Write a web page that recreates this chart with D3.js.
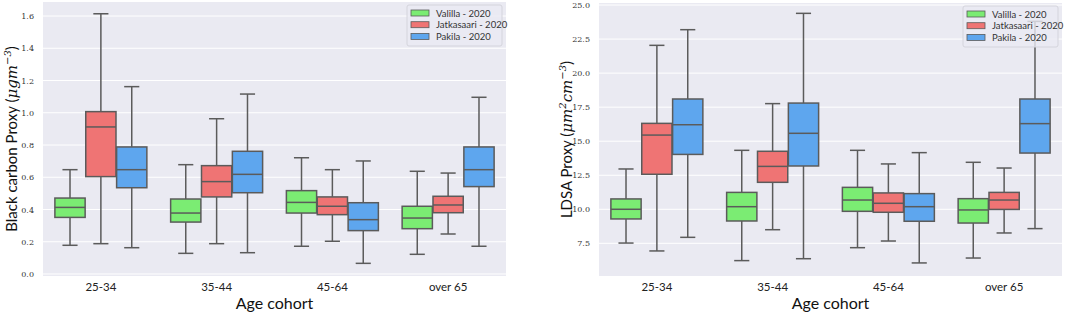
<!DOCTYPE html>
<html>
<head>
<meta charset="utf-8">
<script src="https://cdn.jsdelivr.net/npm/d3@7"></script>
<style>
  body { margin: 0; background: #fff; }
  svg { display: block; }
  .ytick text { font-family: "DejaVu Serif", "Liberation Serif", serif; font-size: 8px; fill: #333; }
  .xtick text { font-family: "Lato", "DejaVu Sans", sans-serif; font-size: 11.5px; fill: #222; }
  .axlabel { font-family: "Lato", "DejaVu Sans", sans-serif; fill: #111; }
  .legend text { font-family: "Lato", "DejaVu Sans", sans-serif; font-size: 9.5px; fill: #333; }
</style>
</head>
<body>
<script>
var WIDTH = 1065;
var HEIGHT = 315;

var cohorts = ["25-34", "35-44", "45-64", "over 65"];
var seriesNames = ["Valilla - 2020", "Jatkasaari - 2020", "Pakila - 2020"];
var seriesColors = ["#7bec73", "#ef7474", "#5ea6ee"];

// [lower whisker, q1, median, q3, upper whisker] for each cohort
var bcValilla = [[0.178, 0.351, 0.413, 0.471, 0.647], [0.128, 0.322, 0.378, 0.465, 0.678], [0.172, 0.378, 0.444, 0.517, 0.721], [0.122, 0.281, 0.347, 0.420, 0.637]];
var bcJatkasaari = [[0.188, 0.604, 0.912, 1.007, 1.614], [0.188, 0.478, 0.573, 0.672, 0.963], [0.203, 0.368, 0.420, 0.478, 0.647], [0.248, 0.380, 0.428, 0.482, 0.626]];
var bcPakila = [[0.163, 0.535, 0.647, 0.788, 1.162], [0.132, 0.504, 0.618, 0.761, 1.116], [0.066, 0.269, 0.337, 0.442, 0.701], [0.172, 0.542, 0.647, 0.788, 1.096]];

var ldsaValilla = [[7.52, 9.29, 10.0, 10.76, 12.96], [6.23, 9.14, 10.19, 11.24, 14.33], [7.18, 9.85, 10.68, 11.61, 14.33], [6.42, 8.99, 9.95, 10.78, 13.45]];
var ldsaJatkasaari = [[6.94, 12.57, 15.45, 16.31, 22.04], [8.50, 11.98, 13.15, 14.26, 17.76], [7.67, 9.78, 10.44, 11.20, 13.33], [8.26, 9.99, 10.68, 11.24, 13.03]];
var ldsaPakila = [[7.94, 14.03, 16.21, 18.10, 23.19], [6.37, 13.18, 15.58, 17.80, 24.39], [6.06, 9.12, 10.19, 11.15, 14.16], [8.58, 14.13, 16.29, 18.10, 23.80]];

var bcTicks = [0.0, 0.2, 0.4, 0.6, 0.8, 1.0, 1.2, 1.4, 1.6];
var ldsaTicks = [7.5, 10.0, 12.5, 15.0, 17.5, 20.0, 22.5, 25.0];

var svg = d3.select("body").append("svg")
  .attr("width", WIDTH)
  .attr("height", HEIGHT);

var drawPanel = function (opt) {
  var left = opt.left, right = opt.right, top = opt.top, bottom = opt.bottom;
  var g = svg.append("g");

  var x = d3.scaleBand().domain(cohorts).range([left, right]).padding(0);
  var y = d3.scaleLinear().domain(opt.domain).range([bottom, top]);
  var hue = d3.scaleBand().domain(d3.range(seriesNames.length))
    .range([0, x.bandwidth() * 0.8]).padding(0);

  g.append("rect")
    .attr("x", left).attr("y", top)
    .attr("width", right - left).attr("height", bottom - top)
    .attr("fill", "#eaeaf2");

  // grid
  g.append("g").selectAll("line")
    .data(opt.ticks)
    .enter().append("line")
    .attr("x1", left).attr("x2", right)
    .attr("y1", function (d) { return y(d); })
    .attr("y2", function (d) { return y(d); })
    .attr("stroke", "#fff").attr("stroke-width", 1);

  var yAxis = d3.axisLeft(y).tickValues(opt.ticks).tickSize(0).tickPadding(opt.tickPad)
    .tickFormat(d3.format(".1f"));
  g.append("g").attr("class", "ytick")
    .attr("transform", "translate(" + left + ",0)")
    .call(yAxis)
    .call(function (s) { s.select(".domain").remove(); });

  var xAxis = d3.axisBottom(x).tickSize(0).tickPadding(7);
  g.append("g").attr("class", "xtick")
    .attr("transform", "translate(0," + bottom + ")")
    .call(xAxis)
    .call(function (s) { s.select(".domain").remove(); });

  // boxes
  var boxW = hue.bandwidth() * 0.98;
  opt.series.forEach(function (vals, si) {
    var sg = g.append("g").selectAll("g")
      .data(vals)
      .enter().append("g")
      .attr("transform", function (d, i) {
        var cx = x(cohorts[i]) + x.bandwidth() * 0.1 + hue(si) + hue.bandwidth() / 2;
        return "translate(" + cx + ",0)";
      });
    var edge = "#5b5b5b";
    sg.append("line")
      .attr("x1", 0).attr("x2", 0)
      .attr("y1", function (d) { return y(d[0]); })
      .attr("y2", function (d) { return y(d[1]); })
      .attr("stroke", edge).attr("stroke-width", 1.5);
    sg.append("line")
      .attr("x1", 0).attr("x2", 0)
      .attr("y1", function (d) { return y(d[3]); })
      .attr("y2", function (d) { return y(d[4]); })
      .attr("stroke", edge).attr("stroke-width", 1.5);
    [0, 4].forEach(function (k) {
      sg.append("line")
        .attr("x1", -boxW / 4).attr("x2", boxW / 4)
        .attr("y1", function (d) { return y(d[k]); })
        .attr("y2", function (d) { return y(d[k]); })
        .attr("stroke", edge).attr("stroke-width", 1.5);
    });
    sg.append("rect")
      .attr("x", -boxW / 2).attr("width", boxW)
      .attr("y", function (d) { return y(d[3]); })
      .attr("height", function (d) { return y(d[1]) - y(d[3]); })
      .attr("fill", seriesColors[si])
      .attr("stroke", edge).attr("stroke-width", 1.5);
    sg.append("line")
      .attr("x1", -boxW / 2).attr("x2", boxW / 2)
      .attr("y1", function (d) { return y(d[2]); })
      .attr("y2", function (d) { return y(d[2]); })
      .attr("stroke", edge).attr("stroke-width", 1.5);
  });

  // axis labels
  g.append("text").attr("class", "axlabel")
    .attr("x", (left + right) / 2).attr("y", 309)
    .attr("text-anchor", "middle")
    .style("font-size", "16px")
    .text("Age cohort");

  var yl = g.append("text").attr("class", "axlabel")
    .attr("transform", "translate(" + opt.ylabelX + "," + ((top + bottom) / 2) + ") rotate(-90)")
    .attr("text-anchor", "middle")
    .style("font-size", "15px");
  yl.append("tspan").text(opt.ylabel[0]);
  opt.ylabel.slice(1).forEach(function (part) {
    var t = yl.append("tspan").text(part.t);
    if (part.it) t.style("font-style", "italic").style("font-family", "'DejaVu Serif', serif");
    if (part.sup) t.attr("dy", -6).style("font-size", "10px").style("font-style", "italic").style("font-family", "'DejaVu Serif', serif");
    if (part.down) t.attr("dy", 6);
  });

  // legend
  var lg = g.append("g").attr("class", "legend")
    .attr("transform", "translate(" + (right - 99) + "," + (top + 3) + ")");
  lg.append("rect")
    .attr("width", 95).attr("height", 41).attr("rx", 2)
    .attr("fill", "#eaeaf2").attr("fill-opacity", 0.8)
    .attr("stroke", "#d4d4dc").attr("stroke-width", 1);
  var rows = lg.selectAll("g.row")
    .data(seriesNames)
    .enter().append("g").attr("class", "row")
    .attr("transform", function (d, i) { return "translate(4," + (8 + i * 11.7) + ")"; });
  rows.append("rect")
    .attr("x", 0).attr("y", -3).attr("width", 18).attr("height", 6)
    .attr("fill", function (d, i) { return seriesColors[i]; })
    .attr("stroke", "#5b5b5b").attr("stroke-width", 0.8);
  rows.append("text")
    .attr("x", 25).attr("y", 3.5)
    .text(function (d) { return d; });
};

drawPanel({
  left: 43, right: 506, top: 2, bottom: 276,
  domain: [-0.0125, 1.687],
  ticks: bcTicks,
  series: [bcValilla, bcJatkasaari, bcPakila],
  tickPad: 9,
  ylabelX: 17,
  ylabel: ["Black carbon Proxy (", {t: "μgm", it: true}, {t: "−3", sup: true}, {t: ")", down: true}]
});

drawPanel({
  left: 599, right: 1062, top: 3, bottom: 276,
  domain: [5.1, 25.15],
  ticks: ldsaTicks,
  series: [ldsaValilla, ldsaJatkasaari, ldsaPakila],
  tickPad: 9,
  ylabelX: 572,
  ylabel: ["LDSA Proxy (", {t: "μm", it: true}, {t: "2", sup: true}, {t: "cm", it: true, down: true}, {t: "−3", sup: true}, {t: ")", down: true}]
});
</script>
</body>
</html>
